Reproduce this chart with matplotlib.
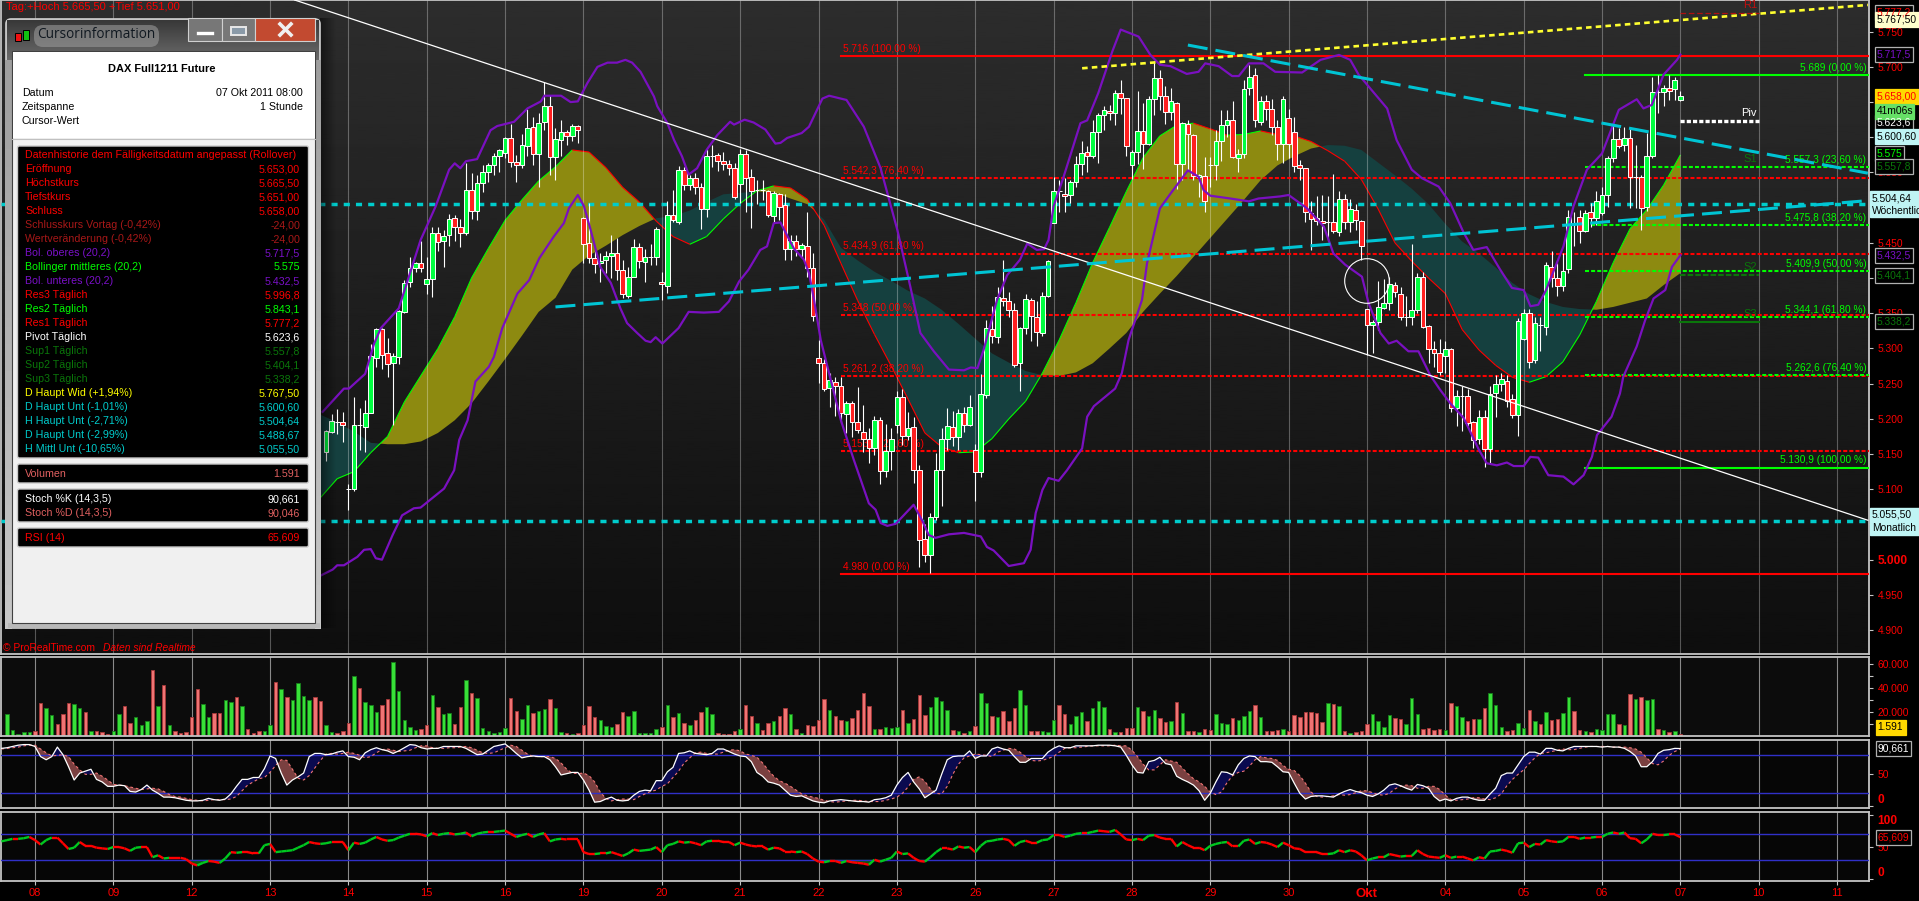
import numpy as np
import matplotlib
matplotlib.use('Agg')
import matplotlib.pyplot as plt
from matplotlib.collections import LineCollection
from matplotlib.patches import Rectangle, FancyBboxPatch, Circle

plt.rcParams['font.family'] = ['Liberation Sans', 'DejaVu Sans']
plt.rcParams['lines.scale_dashes'] = False

# x is the hourly bar number, 14 bars a day, bar 0 = 08 Sep 08:00
day_labels = ['08', '09', '12', '13', '14', '15', '16', '19', '20', '21', '22', '23',
              '26', '27', '28', '29', '30', 'Okt', '04', '05', '06', '07', '10', '11']

first_candle = 52
opens = [5153, 5182, 5196, 5195,
         5100, 5101, 5192, 5189, 5209, 5287, 5327, 5293, 5279, 5288, 5352, 5394, 5415, 5422,
         5391, 5398, 5464, 5452, 5461, 5485, 5473, 5464, 5525, 5495, 5535, 5550, 5561, 5574,
         5577, 5599, 5565, 5561, 5588, 5614, 5576, 5621, 5645, 5572, 5596, 5607, 5602, 5616,
         5486, 5450, 5428, 5422, 5425, 5431, 5435, 5412, 5375, 5402, 5444, 5423, 5430, 5430,
         5395, 5389, 5490, 5480, 5553, 5532, 5542, 5530, 5498, 5573, 5575, 5567, 5562, 5557,
         5533, 5576, 5543, 5525, 5525, 5524, 5488, 5520, 5504, 5441, 5453, 5441, 5445, 5414,
         5287, 5279, 5244, 5253, 5246, 5207, 5222, 5195, 5182, 5171, 5159, 5199, 5126, 5155,
         5192, 5231, 5175, 5188, 5128, 5029, 5006, 5060, 5127, 5172, 5189, 5174, 5208, 5192,
         5156, 5124, 5234, 5327, 5316, 5372, 5367, 5354, 5279, 5329, 5369, 5345, 5322, 5375,
         5478, 5524, 5520, 5518, 5536, 5562, 5579, 5573, 5608, 5631, 5638, 5634, 5663, 5656,
         5560, 5579, 5609, 5591, 5654, 5684, 5658, 5636, 5649, 5562, 5619, 5603, 5543, 5545,
         5560, 5560, 5595, 5618, 5624, 5571, 5576, 5670, 5688, 5622, 5651, 5640, 5615, 5590,
         5628, 5607, 5560, 5556, 5493, 5486, 5481, 5479, 5479, 5466, 5513, 5479, 5496, 5481,
         5356, 5333, 5338, 5358, 5364, 5390, 5378, 5345, 5344, 5354, 5401, 5332, 5299, 5294,
         5289, 5299, 5215, 5233, 5232, 5195, 5171, 5202, 5157, 5237, 5250, 5254, 5228, 5206,
         5314, 5350, 5283, 5333, 5331, 5416, 5400, 5389, 5413, 5478, 5487, 5467, 5494, 5486,
         5492, 5518, 5570, 5597, 5589, 5599, 5544, 5544, 5501, 5574, 5665, 5664, 5670, 5668,
         5653]
closes = [5183, 5197, 5196, 5192,
          5100, 5192, 5192, 5209, 5289, 5327, 5291, 5278, 5289, 5353, 5393, 5415, 5422, 5414,
          5398, 5464, 5451, 5460, 5484, 5472, 5464, 5525, 5495, 5535, 5550, 5561, 5573, 5582,
          5599, 5565, 5561, 5589, 5613, 5576, 5620, 5645, 5572, 5597, 5607, 5602, 5616, 5611,
          5449, 5428, 5420, 5424, 5431, 5435, 5412, 5377, 5402, 5444, 5424, 5430, 5430, 5469,
          5391, 5490, 5482, 5554, 5532, 5542, 5529, 5498, 5573, 5573, 5566, 5562, 5557, 5515,
          5576, 5542, 5524, 5525, 5525, 5489, 5521, 5501, 5441, 5452, 5442, 5447, 5415, 5346,
          5279, 5243, 5255, 5246, 5208, 5222, 5195, 5184, 5171, 5158, 5198, 5126, 5155, 5172,
          5231, 5176, 5187, 5128, 5028, 5006, 5060, 5128, 5172, 5190, 5174, 5208, 5192, 5217,
          5125, 5235, 5329, 5318, 5373, 5367, 5355, 5277, 5329, 5370, 5346, 5323, 5375, 5424,
          5523, 5524, 5517, 5536, 5562, 5577, 5573, 5607, 5631, 5639, 5635, 5663, 5656, 5587,
          5579, 5609, 5591, 5654, 5684, 5659, 5636, 5651, 5562, 5620, 5604, 5545, 5547, 5509,
          5560, 5595, 5617, 5624, 5572, 5576, 5669, 5685, 5624, 5651, 5640, 5614, 5590, 5654,
          5590, 5559, 5556, 5494, 5484, 5481, 5478, 5479, 5467, 5513, 5480, 5498, 5482, 5445,
          5333, 5338, 5359, 5364, 5391, 5380, 5344, 5345, 5354, 5401, 5331, 5299, 5294, 5267,
          5299, 5215, 5232, 5233, 5194, 5170, 5203, 5157, 5236, 5250, 5256, 5226, 5206, 5339,
          5350, 5281, 5336, 5333, 5418, 5400, 5389, 5410, 5487, 5478, 5467, 5493, 5486, 5509,
          5518, 5570, 5597, 5588, 5599, 5543, 5544, 5500, 5574, 5665, 5665, 5670, 5666, 5681,
          5658]
highs = [5184, 5207, 5214, 5210,
         5107, 5231, 5216, 5227, 5306, 5329, 5329, 5315, 5293, 5355, 5397, 5430, 5423, 5452,
         5430, 5473, 5473, 5468, 5491, 5490, 5484, 5563, 5549, 5547, 5561, 5563, 5577, 5584,
         5601, 5619, 5575, 5605, 5640, 5629, 5634, 5679, 5660, 5613, 5625, 5610, 5619, 5618,
         5487, 5506, 5438, 5435, 5438, 5461, 5457, 5426, 5416, 5456, 5450, 5442, 5449, 5473,
         5409, 5509, 5525, 5559, 5558, 5547, 5549, 5535, 5583, 5589, 5578, 5579, 5568, 5563,
         5584, 5582, 5555, 5539, 5540, 5525, 5524, 5521, 5520, 5461, 5461, 5450, 5494, 5435,
         5312, 5285, 5265, 5260, 5260, 5225, 5225, 5245, 5220, 5187, 5204, 5202, 5193, 5187,
         5239, 5242, 5210, 5202, 5134, 5050, 5066, 5151, 5187, 5216, 5211, 5214, 5217, 5234,
         5165, 5264, 5340, 5360, 5388, 5426, 5380, 5365, 5331, 5378, 5372, 5367, 5380, 5425,
         5544, 5539, 5542, 5540, 5573, 5595, 5587, 5625, 5634, 5645, 5646, 5667, 5682, 5656,
         5582, 5666, 5649, 5658, 5708, 5696, 5673, 5670, 5650, 5622, 5624, 5605, 5548, 5572,
         5572, 5610, 5639, 5639, 5652, 5584, 5681, 5703, 5698, 5658, 5660, 5654, 5625, 5658,
         5640, 5629, 5568, 5557, 5509, 5517, 5518, 5517, 5548, 5524, 5519, 5513, 5505, 5483,
         5356, 5340, 5396, 5398, 5402, 5395, 5388, 5374, 5448, 5407, 5408, 5334, 5310, 5313,
         5310, 5301, 5241, 5246, 5242, 5197, 5213, 5213, 5247, 5262, 5265, 5262, 5236, 5343,
         5356, 5356, 5345, 5345, 5423, 5438, 5421, 5435, 5497, 5494, 5496, 5497, 5506, 5523,
         5530, 5573, 5618, 5613, 5615, 5613, 5589, 5546, 5606, 5686, 5689, 5674, 5689, 5686,
         5665.5]
lows = [5140, 5180, 5178, 5167,
        5070, 5098, 5156, 5153, 5209, 5274, 5271, 5260, 5191, 5278, 5350, 5388, 5409, 5408,
        5378, 5373, 5439, 5416, 5445, 5453, 5444, 5461, 5484, 5483, 5522, 5536, 5547, 5550,
        5570, 5558, 5537, 5557, 5573, 5561, 5530, 5610, 5547, 5539, 5573, 5589, 5595, 5592,
        5422, 5422, 5407, 5395, 5407, 5400, 5397, 5371, 5371, 5401, 5414, 5395, 5419, 5419,
        5369, 5379, 5480, 5477, 5525, 5525, 5520, 5469, 5487, 5558, 5552, 5554, 5547, 5513,
        5506, 5494, 5471, 5505, 5511, 5487, 5479, 5483, 5425, 5426, 5431, 5430, 5402, 5339,
        5251, 5239, 5217, 5204, 5194, 5180, 5174, 5180, 5153, 5138, 5149, 5107, 5117, 5127,
        5180, 5163, 5170, 5109, 4990, 4997, 4981, 5056, 5076, 5156, 5161, 5156, 5182, 5190,
        5084, 5117, 5229, 5308, 5308, 5360, 5345, 5273, 5240, 5320, 5310, 5304, 5318, 5373,
        5478, 5494, 5494, 5506, 5530, 5546, 5551, 5570, 5564, 5610, 5624, 5618, 5633, 5573,
        5541, 5562, 5555, 5589, 5632, 5639, 5619, 5625, 5527, 5540, 5553, 5540, 5515, 5494,
        5530, 5539, 5566, 5600, 5570, 5551, 5570, 5660, 5615, 5618, 5625, 5603, 5568, 5563,
        5570, 5550, 5540, 5480, 5440, 5475, 5454, 5452, 5464, 5460, 5470, 5466, 5468, 5426,
        5291, 5293, 5326, 5356, 5355, 5373, 5341, 5332, 5333, 5350, 5329, 5280, 5274, 5262,
        5265, 5210, 5190, 5183, 5190, 5158, 5165, 5131, 5138, 5202, 5240, 5217, 5201, 5176,
        5312, 5272, 5280, 5297, 5319, 5387, 5374, 5381, 5407, 5445, 5450, 5465, 5472, 5475,
        5490, 5501, 5565, 5585, 5580, 5500, 5500, 5468, 5495, 5570, 5634, 5645, 5653, 5653,
        5651]

# Bollinger bands, read at the bends of the line (bar, price)
boll_up_pts = [(51.4, 5210), (55.2, 5243), (56.1, 5243), (59, 5264), (60.6, 5307), (61.8, 5329), (65, 5357),
               (68.9, 5454), (71.6, 5502), (74, 5554), (75, 5563), (76, 5556), (77, 5566), (79, 5569),
               (81.4, 5610), (82.6, 5616), (85.6, 5622), (88, 5641), (90.4, 5651), (91, 5659), (94, 5659),
               (95.7, 5650), (97, 5651), (98.7, 5677), (100.5, 5700), (102.3, 5706), (104, 5706), (105.5, 5710),
               (106.7, 5706), (108.2, 5693), (110.6, 5658), (111.2, 5644), (113, 5620), (114.2, 5596),
               (115.6, 5573), (116.8, 5547), (118.3, 5556), (120, 5582), (121.9, 5603), (124.2, 5622),
               (124.9, 5618), (126.8, 5625), (128.4, 5621), (130.5, 5611), (132.3, 5591), (133.2, 5592),
               (134.4, 5599), (137, 5606), (138.3, 5615), (140.7, 5655), (141.9, 5659), (145, 5653), (148.1, 5615),
               (151.1, 5556), (154.1, 5468), (156.4, 5388), (158.2, 5322), (160.6, 5296), (163.3, 5270), (166, 5269),
               (167.2, 5273), (168.4, 5272), (169.5, 5298), (171.9, 5369), (173.7, 5404), (176, 5426), (177.3, 5449),
               (179, 5440), (180.3, 5441), (181.1, 5454), (182, 5502), (183.8, 5544), (186.8, 5620), (188, 5624),
               (190, 5663), (192.5, 5722), (194, 5753), (197.2, 5743), (199.3, 5717), (201, 5703), (202.9, 5701),
               (205.8, 5690), (207.9, 5693), (209.1, 5705), (211.5, 5701), (213.9, 5687), (215.1, 5687), (216.9, 5705),
               (219.5, 5705), (221.6, 5693), (226.4, 5692), (229.7, 5710), (233, 5717), (235, 5710), (236.5, 5689),
               (241.6, 5641), (243.3, 5596), (246, 5554), (247.8, 5542), (250.8, 5530), (252.9, 5506), (255.3, 5464),
               (257, 5440), (259.4, 5444), (261.8, 5412), (263.9, 5386), (266, 5383), (267.2, 5360), (268.6, 5362),
               (270, 5383), (273.1, 5445), (274.9, 5502), (277.3, 5554), (280, 5577), (283, 5639), (286.2, 5654),
               (287.4, 5641), (288.9, 5646), (291, 5689), (293.4, 5710), (294, 5717.5)]
boll_lo_pts = [(51.2, 4978), (53.2, 4986), (54, 4992), (55.2, 4992), (57.6, 5004), (58.8, 5014), (60, 5015),
               (60.9, 5002), (62, 5000),
               (63.9, 5035), (65.6, 5063), (67.7, 5073), (68.9, 5074), (73.1, 5101), (74.9, 5127), (75.8, 5170),
               (77.3, 5198), (78.7, 5253), (81.1, 5274), (82, 5288), (83.5, 5329), (86.2, 5378), (88.3, 5397),
               (90.1, 5428), (92.7, 5459), (94.5, 5478), (95.4, 5499), (97, 5518), (98.1, 5502), (99.3, 5468),
               (101, 5416), (102.9, 5393), (104.6, 5357), (105.8, 5336), (107.6, 5322), (109.1, 5311), (110, 5309),
               (110.9, 5316), (112.1, 5307), (115, 5329), (116.8, 5352), (119.5, 5351), (122.2, 5352), (124, 5367),
               (125.8, 5395), (127.5, 5412), (129.6, 5440), (130.8, 5445), (132, 5478), (133.2, 5479), (135.6, 5442),
               (137.4, 5426), (138.3, 5407), (139.2, 5369), (140.4, 5312), (144, 5198), (146.3, 5142), (149, 5080),
               (150.2, 5071), (151.1, 5052), (152.3, 5048), (153.8, 5051), (157, 5078), (158.5, 5056), (159.7, 5035),
               (160.9, 5031), (163.3, 5036), (166, 5038), (169, 5033), (170.1, 5018), (171.3, 5013), (174, 4991),
               (176.7, 4995), (177.9, 5014), (178.8, 5066), (180, 5099), (181.1, 5116), (182.9, 5112), (184.4, 5127),
               (187.1, 5158), (188, 5203), (189.2, 5218), (193, 5243), (194.2, 5265), (195.4, 5312), (197.8, 5369),
               (198.7, 5421), (201, 5499), (202.9, 5520), (206, 5553), (207.9, 5544), (208.8, 5525), (210, 5517),
               (213.6, 5513), (216.9, 5509), (218.6, 5513), (222.5, 5516), (224, 5518), (227.3, 5499), (230.3, 5473),
               (232, 5435), (234.1, 5419), (237.1, 5402), (238.3, 5364), (240.4, 5322), (241.9, 5307), (243.3, 5311),
               (245.4, 5296), (247.2, 5296), (249.3, 5262), (251.1, 5241), (252.9, 5222), (255.3, 5201), (258, 5156),
               (259.4, 5137), (261.2, 5134), (263, 5138), (264.2, 5133), (266, 5133), (267.2, 5146), (268.6, 5145),
               (270.4, 5120), (273.1, 5118), (274.9, 5107), (276.7, 5120), (278.2, 5146), (279.1, 5177), (281.7, 5203),
               (283.2, 5236), (283.8, 5260), (286.2, 5303), (287.7, 5340), (289.2, 5371), (291.3, 5383), (292.5, 5416),
               (294, 5432.5)]

# the two averages of the cloud, read every third bar
cloud_x = list(range(51, 295, 3))
cloud_a = [5088, 5115, 5125, 5152, 5175, 5224, 5262, 5300, 5345, 5400, 5442, 5482, 5511, 5538, 5558, 5582, 5579,
           5557, 5529, 5508, 5481, 5459, 5448, 5459, 5484, 5506, 5524, 5531, 5528, 5512, 5475, 5421, 5368, 5320,
           5275, 5228, 5180, 5160, 5152, 5153, 5172, 5200, 5225, 5265, 5312, 5365, 5422, 5472, 5523, 5571, 5602,
           5617, 5620, 5612, 5603, 5604, 5609, 5604, 5602, 5594, 5581, 5566, 5540, 5498, 5450, 5424, 5400, 5378,
           5327, 5298, 5276, 5259, 5252, 5260, 5281, 5319, 5367, 5422, 5470, 5497, 5532, 5575]
cloud_b = [5206, 5195, 5182, 5166, 5164, 5164, 5168, 5180, 5198, 5222, 5253, 5285, 5318, 5352, 5372, 5412, 5432,
           5446, 5461, 5474, 5485, 5488, 5496, 5508, 5519, 5521, 5523, 5522, 5513, 5505, 5483, 5443, 5425, 5409,
           5396, 5382, 5371, 5355, 5335, 5314, 5293, 5280, 5268, 5262, 5261, 5266, 5279, 5300, 5322, 5352, 5378,
           5403, 5430, 5457, 5484, 5511, 5539, 5560, 5573, 5584, 5589, 5588, 5582, 5564, 5546, 5527, 5505, 5477,
           5452, 5435, 5415, 5393, 5377, 5366, 5359, 5356, 5355, 5359, 5365, 5371, 5390, 5407]

# Fibonacci levels, left set red, right set green
fib_red = [5716, 5542.3, 5434.9, 5348, 5261.2, 5153.7, 4980]
fib_red_txt = ['5.716 (100,00 %)', '5.542,3 (76,40 %)', '5.434,9 (61,80 %)', '5.348 (50,00 %)',
               '5.261,2 (38,20 %)', '5.153,7 (23,60 %)', '4.980 (0,00 %)']
fib_red_start = 144
fib_green = [5689, 5557.3, 5475.8, 5409.9, 5344.1, 5262.6, 5130.9]
fib_green_txt = ['5.689 (0,00 %)', '5.557,3 (23,60 %)', '5.475,8 (38,20 %)', '5.409,9 (50,00 %)',
                 '5.344,1 (61,80 %)', '5.262,6 (76,40 %)', '5.130,9 (100,00 %)']
fib_green_start = 277

pivot_span = [294, 308]
r1, piv, s1, s2, s3 = 5777.2, 5623.6, 5557.8, 5404.1, 5338.2
weekly, monthly = 5504.64, 5055.50

white_trend_x, white_trend_y = [46.4, 327.5], [5795, 5056]
yellow_trend_x, yellow_trend_y = [187.1, 327.5], [5698, 5788]
cyan_fall_x, cyan_fall_y = [206, 327.5], [5731, 5549]
cyan_rise_x, cyan_rise_y = [93, 327.5], [5359, 5510]

price_ticks = list(range(4900, 5751, 50))

# volume in thousands, one row per trading day
vol_first = -5
volume = [18.3, 5, 1.4, 3.1, 3.1,
          3.9, 27.2, 23.1, 17.2, 9.7, 18.1, 27.2, 26.4, 23.1, 20, 4.2, 3.9, 3.3, 1.9,
          3.9, 18.1, 24.7, 10.6, 15.6, 8.9, 12.2, 55, 25, 42.5, 9.2, 3.9, 2.2, 3.1,
          15.6, 38.9, 26.4, 15.6, 18.9, 18.9, 29.7, 28.1, 32.2, 24.7, 5.6, 2.8, 3.9, 3.9,
          8.9, 44.8, 38.9, 32.2, 29.7, 43.9, 33.1, 29.7, 32.2, 28.9, 8.9, 3.1, 2.2, 3.9,
          10.6, 49.8, 39.8, 28.1, 25.6, 19.7, 25.6, 30.6, 61.4, 37.3, 13.3, 7.2, 4.7, 5.6,
          8.9, 33.9, 23.9, 18.1, 18.9, 9.7, 23.9, 46.4, 35.6, 31.4, 6.4, 3.9, 2.2, 3.1,
          6.4, 31.4, 20.6, 13.9, 25.6, 18.9, 20.6, 22.2, 30.6, 23.1, 3.1, 2.2, 1.4, 2.2,
          8.9, 24.7, 15.6, 13.1, 8.1, 7.2, 9.7, 19.7, 16.7, 20.6, 2.2, 2.2, 2.2, 5.6,
          7.2, 25.6, 15.6, 18.9, 10.6, 8.9, 13.1, 20, 23.9, 18.1, 2.2, 1.4, 1.4, 3.9,
          5.6, 25.6, 16.4, 10.6, 4.7, 10.6, 12.2, 16.4, 23.1, 18.1, 5.6, 2.2, 8.9, 8.1,
          13.1, 30.6, 21.4, 16.4, 13.1, 12.2, 14.7, 21.4, 35.6, 24.7, 5.6, 5.6, 7.2, 6.4,
          7.2, 21.4, 10.6, 13.9, 33.9, 17.2, 23.9, 32.2, 28.9, 21.4, 4.7, 3.9, 2.2, 3.9,
          8.1, 35.6, 27.2, 16.4, 15.6, 20.6, 12.2, 23.1, 38.1, 25.6, 3.9, 3.9, 3.9, 3.1,
          13.1, 25.6, 18.1, 9.7, 16.4, 19.7, 12.2, 23.1, 28.9, 23.9, 5.6, 3.1, 3.1, 6.4,
          6.4, 23.9, 20.6, 16.4, 21.4, 14.7, 11.4, 12.2, 28.1, 18.9, 3.9, 3.9, 3.1, 5.6,
          4.7, 18.1, 10.6, 9.7, 14.7, 13.1, 16.4, 20.6, 25.6, 15.6, 3.9, 3.9, 4.7, 5.6,
          3.9, 17.2, 15.6, 19.7, 19.7, 18.9, 11.4, 27.2, 26.4, 24.7, 3.9, 2.2, 3.1, 3.9,
          9.7, 18.1, 12.2, 7.2, 17.2, 14.7, 13.9, 9.7, 31.4, 18.1, 5.6, 6.4, 4.7, 5.6,
          4.7, 27.2, 24.7, 15.6, 12.2, 13.9, 13.9, 23.1, 35.6, 25.6, 7.2, 3.9, 4.7, 10.6,
          6.4, 21.4, 12.2, 9.7, 19.7, 13.1, 13.9, 18.9, 32.2, 20.6, 4.7, 3.9, 3.1, 5.6,
          4.7, 18.1, 18.1, 9.7, 8.9, 34.8, 30.6, 32.2, 29.7, 30.6, 5.6, 4.7, 3.1, 3.9,
          1.591]
vol_side = ('GGGGG'
            'RRGGRRRGGRGRRR' 'GGRRGGGRGRGRRR' 'RRGGRRGGRGRRRG' 'GRGRGGGGRRGGRR'
            'RGRGGGRRGGGGGR' 'RGRGGRRGRGGGGG' 'GRRGGRGGRGGRGR' 'RRRGGGRRGGGGGG'
            'RGRGRGRRGGRRRR' 'GRRGRRGRRGRGRR' 'RRGRRGRRRRGRGG' 'GRGRRRGGGGRGRG'
            'RGGRGRRRGGRRGG' 'GRRGGGRGGGRGRR' 'RGRGGRRGRGRRGR' 'RGGGRGGGRGRRRG'
            'RRRRRRRGRGRGRR' 'RGGGGRRGGGRRRR' 'GRGGRRGRGGGRRG' 'GRGRGRRGGRRGRG'
            'GGGRGRGRGGRGRG' 'R')

# stochastic and RSI, one row per trading day, starting at bar -6
ind_first = -6
stoch_k = [91, 92, 94, 96, 97, 97,
           94, 78, 73, 78, 93, 81, 62, 41, 52, 55, 58, 42, 38, 31,
           31, 33, 32, 23, 22, 26, 33, 25, 20, 14, 14, 13, 11, 9,
           8, 8, 9, 12, 10, 9, 11, 19, 31, 42, 42, 45, 45, 59,
           79, 75, 52, 33, 41, 46, 52, 78, 83, 83, 81, 82, 85, 87,
           78, 77, 73, 84, 89, 92, 89, 87, 83, 87, 92, 97, 96, 92,
           90, 91, 91, 94, 94, 94, 94, 91, 86, 81, 82, 88, 94, 96,
           98, 91, 83, 76, 78, 79, 78, 78, 73, 62, 49, 51, 53, 53,
           41, 25, 6, 7, 11, 14, 9, 8, 9, 17, 23, 25, 24, 40,
           40, 54, 61, 83, 84, 87, 83, 82, 81, 83, 90, 90, 86, 82,
           79, 78, 70, 53, 47, 38, 36, 33, 25, 17, 15, 16, 12, 8,
           6, 5, 8, 9, 10, 9, 8, 7, 7, 6, 10, 11, 13, 17,
           33, 45, 53, 38, 27, 13, 19, 25, 50, 73, 78, 79, 79, 87,
           75, 79, 79, 90, 93, 90, 88, 78, 69, 69, 75, 75, 75, 85,
           91, 95, 92, 92, 95, 95, 95, 95, 96, 96, 96, 95, 93, 80,
           65, 53, 52, 70, 72, 77, 67, 65, 47, 42, 38, 33, 24, 9,
           20, 38, 54, 53, 49, 65, 75, 79, 78, 70, 70, 69, 62, 54,
           53, 36, 20, 11, 15, 16, 16, 15, 14, 19, 23, 26, 23, 21,
           17, 15, 19, 25, 33, 35, 32, 28, 25, 34, 32, 28, 15, 8,
           11, 8, 12, 14, 14, 11, 9, 9, 19, 28, 48, 52, 52, 65,
           78, 85, 85, 82, 91, 91, 88, 87, 91, 94, 94, 94, 94, 94,
           93, 94, 93, 93, 91, 86, 79, 62, 62, 70, 83, 88, 89, 91,
           90.661]
stoch_d = [90, 91, 92, 93, 95, 96,
           96, 90, 84, 79, 80, 81, 78, 66, 57, 50, 50, 52, 47, 41,
           34, 33, 32, 30, 28, 26, 27, 28, 27, 23, 18, 15, 14, 12,
           10, 9, 8, 9, 10, 10, 10, 11, 15, 24, 33, 38, 43, 45,
           53, 64, 73, 72, 58, 44, 41, 48, 60, 72, 82, 83, 82, 83,
           85, 83, 80, 76, 78, 84, 89, 90, 88, 86, 87, 88, 92, 95,
           95, 92, 91, 91, 92, 92, 93, 94, 92, 88, 84, 83, 84, 88,
           92, 96, 94, 88, 82, 78, 78, 78, 78, 75, 68, 58, 52, 51,
           52, 48, 38, 22, 12, 8, 10, 11, 11, 10, 15, 19, 23, 25,
           31, 35, 45, 55, 68, 76, 84, 85, 83, 82, 82, 85, 88, 89,
           87, 82, 80, 77, 68, 57, 47, 40, 36, 31, 25, 19, 16, 14,
           12, 9, 7, 6, 7, 8, 9, 9, 8, 7, 7, 7, 9, 11,
           14, 20, 30, 42, 46, 39, 27, 20, 19, 31, 50, 66, 76, 79,
           82, 81, 80, 78, 85, 88, 91, 90, 85, 78, 72, 71, 72, 75,
           78, 85, 91, 92, 92, 93, 94, 95, 95, 95, 95, 96, 95, 95,
           88, 78, 66, 57, 57, 65, 73, 71, 69, 60, 51, 43, 38, 31,
           22, 18, 22, 37, 48, 53, 55, 63, 73, 78, 76, 75, 72, 64,
           58, 56, 48, 36, 22, 15, 14, 15, 16, 18, 17, 18, 21, 24,
           24, 21, 18, 17, 20, 27, 31, 33, 32, 28, 28, 31, 31, 26,
           17, 10, 9, 10, 11, 13, 13, 11, 10, 13, 19, 32, 42, 50,
           57, 67, 76, 83, 84, 86, 88, 90, 89, 89, 91, 93, 94, 94,
           94, 94, 93, 93, 93, 92, 90, 85, 76, 67, 65, 71, 80, 86,
           90.046]
rsi = [59, 61, 63, 63, 64, 66,
       61, 54, 61, 65, 65, 56, 47, 49, 58, 52, 52, 49, 48, 47,
       50, 50, 48, 44, 49, 50, 50, 34, 37, 32, 33, 33, 33, 31,
       24, 21, 25, 28, 27, 25, 32, 42, 41, 42, 42, 40, 40, 53,
       55, 42, 43, 44, 45, 49, 53, 58, 56, 55, 56, 58, 58, 58,
       45, 57, 55, 57, 62, 66, 62, 60, 61, 65, 68, 71, 71, 70,
       67, 72, 69, 71, 72, 70, 71, 73, 67, 71, 73, 74, 74, 75,
       76, 71, 66, 69, 71, 66, 70, 72, 59, 62, 63, 62, 62, 62,
       42, 39, 39, 40, 40, 42, 39, 36, 40, 46, 44, 45, 46, 50,
       42, 53, 55, 59, 57, 58, 56, 53, 59, 60, 60, 58, 58, 53,
       57, 54, 52, 51, 51, 46, 49, 48, 43, 43, 42, 43, 39, 32,
       27, 26, 28, 28, 25, 28, 26, 25, 24, 22, 30, 27, 30, 33,
       43, 39, 40, 33, 28, 27, 34, 42, 48, 48, 46, 51, 49, 50,
       42, 52, 59, 60, 62, 63, 61, 52, 58, 60, 57, 57, 61, 62,
       69, 69, 66, 68, 71, 72, 72, 74, 76, 75, 74, 77, 70, 62,
       61, 63, 61, 68, 69, 65, 63, 63, 51, 58, 53, 49, 49, 45,
       52, 55, 57, 58, 51, 51, 60, 62, 55, 58, 57, 54, 50, 57,
       53, 48, 47, 42, 42, 42, 39, 39, 40, 45, 42, 45, 43, 37,
       29, 32, 34, 34, 39, 37, 35, 36, 36, 45, 39, 35, 34, 33,
       37, 33, 35, 35, 32, 29, 34, 32, 43, 44, 46, 44, 41, 56,
       57, 50, 55, 54, 61, 59, 58, 59, 66, 66, 63, 65, 65, 66,
       66, 71, 73, 71, 73, 64, 63, 56, 62, 71, 69, 69, 70, 70,
       65.609]

# text of the cursor window
info_labels = ['Datenhistorie dem Fälligkeitsdatum angepasst (Rollover)', 'Eröffnung', 'Höchstkurs', 'Tiefstkurs',
               'Schluss', 'Schlusskurs Vortag (-0,42%)', 'Wertveränderung (-0,42%)', 'Bol. oberes (20,2)',
               'Bollinger mittleres (20,2)', 'Bol. unteres (20,2)', 'Res3 Täglich', 'Res2 Täglich', 'Res1 Täglich',
               'Pivot Täglich', 'Sup1 Täglich', 'Sup2 Täglich', 'Sup3 Täglich', 'D Haupt Wid (+1,94%)',
               'D Haupt Unt (-1,01%)', 'H Haupt Unt (-2,71%)', 'D Haupt Unt (-2,99%)', 'H Mittl Unt (-10,65%)']
info_values = ['', '5.653,00', '5.665,50', '5.651,00', '5.658,00', '-24,00', '-24,00', '5.717,5', '5.575', '5.432,5',
               '5.996,8', '5.843,1', '5.777,2', '5.623,6', '5.557,8', '5.404,1', '5.338,2', '5.767,50', '5.600,60',
               '5.504,64', '5.488,67', '5.055,50']
RED, DRED, PUR, LIME, DGRN, YEL, CYA = '#ff0000', '#a81818', '#7a10c8', '#00ff00', '#0a760a', '#ffff00', '#00cccc'
info_colors = [RED, RED, RED, RED, RED, DRED, DRED, PUR, LIME, PUR, RED, LIME, RED, 'white', DGRN, DGRN, DGRN,
               YEL, CYA, CYA, CYA, CYA]

W, H = 1919, 901
PLOT_R = 1869
FS_AXIS = 7.4
FS_FIB = 7.3
FS_WIN = 7.7
fig = plt.figure(figsize=(W / 100, H / 100), dpi=100, facecolor='black')


def panel(top, bottom):
    ax = fig.add_axes([1 / W, (H - bottom) / H, (PLOT_R - 1) / W, (bottom - top) / H])
    ax.set_xlim(-6.07, 327.7)
    ax.yaxis.tick_right()
    for s in ax.spines.values():
        s.set_color('#c4c4c4')
        s.set_linewidth(1.3)
    ax.tick_params(axis='x', bottom=False, labelbottom=False)
    ax.tick_params(axis='y', which='both', colors='#c4c4c4', labelcolor=RED, labelsize=FS_AXIS, length=3, pad=3,
                   width=0.8)
    return ax


day_x = np.arange(len(day_labels)) * 14

# price panel
ax = panel(0, 654)
ax.set_ylim(4866, 5795)
grad = np.linspace(0.175, 0.055, 256).reshape(-1, 1)
ax.imshow(grad, cmap='gray', vmin=0, vmax=1, aspect='auto', extent=[-6.07, 327.7, 4866, 5795], zorder=0)

cx, ca, cb = np.array(cloud_x), np.array(cloud_a), np.array(cloud_b)
ax.fill_between(cx, ca, cb, where=ca >= cb, interpolate=True, color='#8d8a10', lw=0, zorder=1)
ax.fill_between(cx, ca, cb, where=ca < cb, interpolate=True, color='#15403f', lw=0, zorder=1)
seg = np.stack([np.column_stack([cx[:-1], ca[:-1]]), np.column_stack([cx[1:], ca[1:]])], axis=1)
ax.add_collection(LineCollection(seg, colors=[LIME if d > 0 else RED for d in np.diff(ca)], linewidths=0.8,
                                 zorder=2))
for d in day_x:
    ax.axvline(d, color='white', alpha=0.3, lw=0.8, zorder=2)

for lvl, txt in zip(fib_red, fib_red_txt):
    solid = lvl in (fib_red[0], fib_red[-1])
    ax.plot([fib_red_start, 327.7], [lvl, lvl], color=RED, lw=1.5,
            ls='-' if solid else (0, (2.9, 1.5)), zorder=3)
    ax.text(fib_red_start + 0.4, lvl + 3, txt, color=RED, fontsize=FS_FIB, va='bottom', ha='left', zorder=3)
for lvl, txt in zip(fib_green, fib_green_txt):
    solid = lvl in (fib_green[0], fib_green[-1])
    ax.plot([fib_green_start, 327.7], [lvl, lvl], color=LIME, lw=1.5,
            ls='-' if solid else (0, (2.9, 1.5)), zorder=3)
    ax.text(327.2, lvl + 3, txt, color=LIME, fontsize=FS_FIB, va='bottom', ha='right', zorder=3)

for lvl in (weekly, monthly):
    ax.plot([-6.07, 327.7], [lvl, lvl], color=CYA, lw=2.5, ls=(0, (4.4, 4.4)), zorder=3)

# candles
cnd_x = np.arange(len(opens)) + first_candle
o, c = np.array(opens), np.array(closes)
ax.vlines(cnd_x, lows, highs, color='white', lw=0.8, zorder=4)
body_col = ['#00ff40' if b >= a else '#ff2020' for a, b in zip(o, c)]
ax.bar(cnd_x, np.abs(c - o), bottom=np.minimum(o, c), width=0.84, color=body_col, edgecolor='white', linewidth=0.7,
       zorder=5)

ax.plot(*zip(*boll_up_pts), color='#7a10c0', lw=1.6, zorder=6)
ax.plot(*zip(*boll_lo_pts), color='#7a10c0', lw=1.6, zorder=6)

ax.plot(white_trend_x, white_trend_y, color='white', lw=0.9, zorder=6)
ax.plot(yellow_trend_x, yellow_trend_y, color='#ffff30', lw=1.9, ls=(0, (4, 3)), zorder=6)
ax.plot(cyan_fall_x, cyan_fall_y, color='#00c4d4', lw=2.2, ls=(0, (14.4, 5.8)), zorder=6)
ax.plot(cyan_rise_x, cyan_rise_y, color='#00c4d4', lw=2.2, ls=(0, (14.4, 5.8)), zorder=6)

ax.plot(pivot_span, [r1, r1], color='#b01010', lw=0.9, ls=(0, (4, 2)), zorder=6)
ax.plot(pivot_span, [piv, piv], color='white', lw=2.4, ls=(0, (3, 1.5)), zorder=6)
ax.plot(pivot_span, [s2, s2], color=DGRN, lw=1.5, ls=(0, (4, 1.5)), zorder=6)
ax.plot(pivot_span, [s3, s3], color=DGRN, lw=1.5, zorder=6)
for lvl, name, col in [(r1, 'R1', '#c01010'), (piv, 'Piv', 'white'), (s1, 'S1', DGRN), (s2, 'S2', DGRN),
                       (s3, 'S3', DGRN)]:
    ax.text(pivot_span[1] - 0.3, lvl + 4, name, color=col, fontsize=8, ha='right', va='bottom', zorder=6)

ax.set_yticks(price_ticks)
ax.set_yticklabels([f'{p // 1000}.{p % 1000:03d}' for p in price_ticks])
for lab, p in zip(ax.get_yticklabels(), price_ticks):
    if p == 5000:
        lab.set_fontweight('bold')
        lab.set_fontsize(8.6)

# volume panel
axv = panel(657, 736)
axv.set_facecolor('#0c0c0c')
axv.set_ylim(0, 65.8)
vol_x = np.arange(len(volume)) + vol_first
axv.bar(vol_x, volume, width=0.62, color=['#38e038' if s == 'G' else '#f07474' for s in vol_side],
        edgecolor=['#17801c' if s == 'G' else '#a83838' for s in vol_side], linewidth=0.6, zorder=2)
axv.set_yticks([20, 40, 60])
axv.set_yticklabels(['20.000', '40.000', '60.000'])
axv.set_yticks([10, 30, 50], minor=True)
for d in day_x:
    axv.axvline(d, color='#8a8a8a', lw=0.8, zorder=1)

# stochastic panel
axs = panel(739.5, 808)
axs.set_facecolor('#060606')
axs.set_ylim(-3.2, 105)
ind_x = np.arange(len(stoch_k)) + ind_first
k, dd = np.array(stoch_k), np.array(stoch_d)
axs.fill_between(ind_x, k, dd, where=k < dd, interpolate=True, color='#7a4040', lw=0, zorder=2)
axs.fill_between(ind_x, k, dd, where=k >= dd, interpolate=True, color='#0a0a50', lw=0, zorder=2)
for lvl in (20, 80):
    axs.axhline(lvl, color='#3030c8', lw=1, zorder=3)
axs.plot(ind_x, dd, color='#f07474', lw=0.8, ls=(0, (2, 2)), zorder=4)
axs.plot(ind_x, k, color='white', lw=0.9, zorder=5)
axs.set_yticks([0, 50])
axs.set_yticklabels(['0', '50'])
lab0 = axs.get_yticklabels()[0]
lab0.set_fontweight('bold')
lab0.set_fontsize(8.6)
lab0.set_va('bottom')
for d in day_x:
    axs.axvline(d, color='#8a8a8a', lw=0.8, zorder=1)

# RSI panel
axr = panel(812, 881)
axr.set_facecolor('#060606')
axr.set_ylim(-3.6, 105.4)
r = np.array(rsi)
axr.fill_between(ind_x, r, 30, where=r < 30, interpolate=True, color='#0a5a0a', lw=0, zorder=2)
for lvl in (30, 70):
    axr.axhline(lvl, color='#3030c8', lw=1, zorder=3)
seg = np.stack([np.column_stack([ind_x[:-1], r[:-1]]), np.column_stack([ind_x[1:], r[1:]])], axis=1)
axr.add_collection(LineCollection(seg, colors=['#00c820' if v > 0 else RED for v in np.diff(r)], linewidths=1.7,
                                  zorder=4))
axr.set_yticks([0, 50, 100])
axr.set_yticklabels(['0', '50', '100'])
labs = axr.get_yticklabels()
for lab, va in ((labs[0], 'bottom'), (labs[2], 'top')):
    lab.set_fontweight('bold')
    lab.set_fontsize(8.6)
    lab.set_va(va)
for d in day_x:
    axr.axvline(d, color='#8a8a8a', lw=0.8, zorder=1)
axr.set_xticks(day_x)
axr.set_xticklabels(day_labels)
axr.tick_params(axis='x', bottom=True, labelbottom=True, colors='#c4c4c4', labelcolor=RED, labelsize=8, length=3,
                pad=2, width=0.8)
okt = axr.get_xticklabels()[day_labels.index('Okt')]
okt.set_fontweight('bold')
okt.set_fontsize(9.5)

# everything below is in image pixels: value tags, cursor window
ov = fig.add_axes([0, 0, 1, 1], zorder=10)
ov.set_xlim(0, W)
ov.set_ylim(H, 0)
ov.axis('off')


def py(a, val):
    return H - a.transData.transform((0, val))[1]


def tag(a, val, txt, fg, bg='black', edge='#b0b0b0', w=38, h=15, x=1875, dy=0):
    y = py(a, val) + dy
    ov.add_patch(Rectangle((x, y - h / 2), w, h, fc=bg, ec=edge, lw=0.9))
    ov.text(x + 1.5, y, txt, color=fg, fontsize=FS_AXIS, va='center', ha='left')


tag(ax, r1, '5.777,2', RED)
tag(ax, 5767.5, '5.767,50', 'black', bg='#ffffcc', edge='#ffffcc', w=44)
tag(ax, 5717.5, '5.717,5', PUR)
tag(ax, 5623.6, '5.623,6', 'white', dy=2)
tag(ax, 5658, '5.658,00', RED, bg='#ffd800', edge='#ffd800', w=44)
tag(ax, 5658, '41m06s', 'black', bg='#66e066', edge='#66e066', w=39, dy=15)
tag(ax, 5600.6, '5.600,60', 'black', bg='#bff4f4', edge='#bff4f4', w=44)
tag(ax, 5575, '5.575', LIME, w=29, dy=-1)
tag(ax, 5557.8, '5.557,8', DGRN)
tag(ax, 5432.5, '5.432,5', PUR)
tag(ax, s2, '5.404,1', DGRN)
tag(ax, s3, '5.338,2', DGRN)
y0 = py(ax, weekly)
ov.add_patch(Rectangle((1870, y0 - 13), 49, 26, fc='#bff4f4', ec='#bff4f4'))
ov.text(1872, y0 - 6, '5.504,64', color='black', fontsize=FS_AXIS, va='center')
ov.text(1872, y0 + 7, 'Wöchentlich', color='black', fontsize=FS_AXIS, va='center', clip_on=True)
y0 = py(ax, monthly)
ov.add_patch(Rectangle((1870, y0 - 13), 49, 27, fc='#bff4f4', ec='#bff4f4'))
ov.text(1872, y0 - 6, '5.055,50', color='black', fontsize=FS_AXIS, va='center')
ov.text(1872, y0 + 7, 'Monatlich', color='black', fontsize=FS_AXIS, va='center', clip_on=True)
tag(axv, volume[-1], '1.591', 'black', bg='#ffd800', edge='#ffd800', w=30, h=15, x=1876, dy=-7)
tag(axs, stoch_k[-1], '90,661', 'white', w=35, x=1876)
tag(axr, rsi[-1], '65,609', RED, w=35, x=1876)

ov.text(6, 7, 'Tag:+Hoch 5.665,50 +Tief 5.651,00', color=RED, fontsize=8, va='center')
ov.text(3, 648, '© ProRealTime.com', color=RED, fontsize=7.4, va='center')
ov.text(103, 648, 'Daten sind Realtime', color=RED, fontsize=7.4, va='center', style='italic')
ov.add_patch(Circle((1367, 281), 22.3, fc='none', ec='white', lw=0.8))

# shadow next to the window
ov.imshow(np.zeros((1, 32)), cmap='gray', vmin=0, vmax=1, alpha=np.linspace(0.5, 0, 32).reshape(1, -1),
          aspect='auto', extent=[320, 336, 628, 18], zorder=0)

# cursor window
ov.add_patch(FancyBboxPatch((6, 19), 314, 609, boxstyle='round,pad=0,rounding_size=5', fc='#8a8a8a', ec='#d0d0d0',
                            lw=1.2))
ov.imshow(np.linspace(0.22, 0.42, 64).reshape(-1, 1), cmap='gray', vmin=0, vmax=1, aspect='auto',
          extent=[7, 319, 60, 20], zorder=1)
ov.imshow(np.linspace(0.62, 0.78, 64).reshape(-1, 1), cmap='gray', vmin=0, vmax=1, aspect='auto',
          extent=[5, 12, 629, 60], zorder=1)
ov.imshow(np.linspace(0.62, 0.78, 64).reshape(-1, 1), cmap='gray', vmin=0, vmax=1, aspect='auto',
          extent=[315, 321, 629, 60], zorder=1)
ov.add_patch(Rectangle((8, 623), 312, 5, fc='#b8b8b8', ec='none', zorder=1))
ov.set_xlim(0, W)
ov.set_ylim(H, 0)
ov.add_patch(FancyBboxPatch((34, 25), 125, 22, boxstyle='round,pad=0,rounding_size=9', fc='#a0a0a0', ec='none',
                            alpha=0.55, zorder=2))
ov.add_patch(Rectangle((14.5, 33), 6, 8, fc='#f01010', ec='black', lw=0.7, zorder=3))
ov.add_patch(Rectangle((23, 30), 6, 10, fc='#10c010', ec='black', lw=0.7, zorder=3))
ov.text(37, 35, 'Cursorinformation', color='#101820', fontsize=9.8, family='Open Sans', va='center', zorder=3)
ov.add_patch(Rectangle((188, 18), 34, 23, fc='#777777', ec='#d0d0d0', lw=0.8, zorder=3))
ov.add_patch(Rectangle((222, 18), 33, 23, fc='#777777', ec='#d0d0d0', lw=0.8, zorder=3))
ov.add_patch(Rectangle((255, 18), 60, 23, fc='#c24a30', ec='#d0d0d0', lw=0.8, zorder=3))
ov.plot([198, 212], [33, 33], color='white', lw=2.4, zorder=4)
ov.add_patch(Rectangle((231, 27), 15, 8, fc='#8a9aa8', ec='#e8e8e8', lw=1.4, zorder=4))
ov.plot([280, 291], [24, 35], color='#f0f0f0', lw=2.6, zorder=4)
ov.plot([280, 291], [35, 24], color='#f0f0f0', lw=2.6, zorder=4)

ov.add_patch(Rectangle((12, 51), 303, 572, fc='#f0f0f0', ec='#404040', lw=0.8, zorder=3))
ov.add_patch(Rectangle((12.5, 52), 302, 86, fc='white', ec='none', zorder=3))
ov.plot([12, 315], [138.5, 138.5], color='#c0c0c0', lw=0.8, zorder=4)
ov.text(162, 69, 'DAX Full1211 Future', color='black', fontsize=7.9, fontweight='bold', ha='center', va='center',
        zorder=5)
for yy, left, right in [(93, 'Datum', '07 Okt 2011 08:00'), (107, 'Zeitspanne', '1 Stunde'), (121, 'Cursor-Wert', '')]:
    ov.text(22, yy, left, color='black', fontsize=FS_WIN, va='center', zorder=5)
    ov.text(303, yy, right, color='black', fontsize=FS_WIN, va='center', ha='right', zorder=5)

for top, bot in [(146, 458), (464, 483), (489, 522), (528, 547)]:
    ov.add_patch(FancyBboxPatch((17.5, top), 291, bot - top, boxstyle='round,pad=0,rounding_size=2', fc='black',
                                ec='#c8c8c8', lw=1, zorder=4))
for n, (lab, val, col) in enumerate(zip(info_labels, info_values, info_colors)):
    yy = 155 + 14 * n
    ov.text(25, yy, lab, color=col, fontsize=FS_WIN, va='center', zorder=5)
    ov.text(300, yy, val, color=col, fontsize=FS_WIN, va='center', ha='right', zorder=5)
for yy, lab, val, col in [(474, 'Volumen', '1.591', '#e06060'), (499, 'Stoch %K (14,3,5)', '90,661', 'white'),
                          (513, 'Stoch %D (14,3,5)', '90,046', '#e06060'), (538, 'RSI (14)', '65,609', RED)]:
    ov.text(25, yy, lab, color=col, fontsize=FS_WIN, va='center', zorder=5)
    ov.text(300, yy, val, color=col, fontsize=FS_WIN, va='center', ha='right', zorder=5)

fig.savefig('out.png', dpi=100, facecolor='black')
